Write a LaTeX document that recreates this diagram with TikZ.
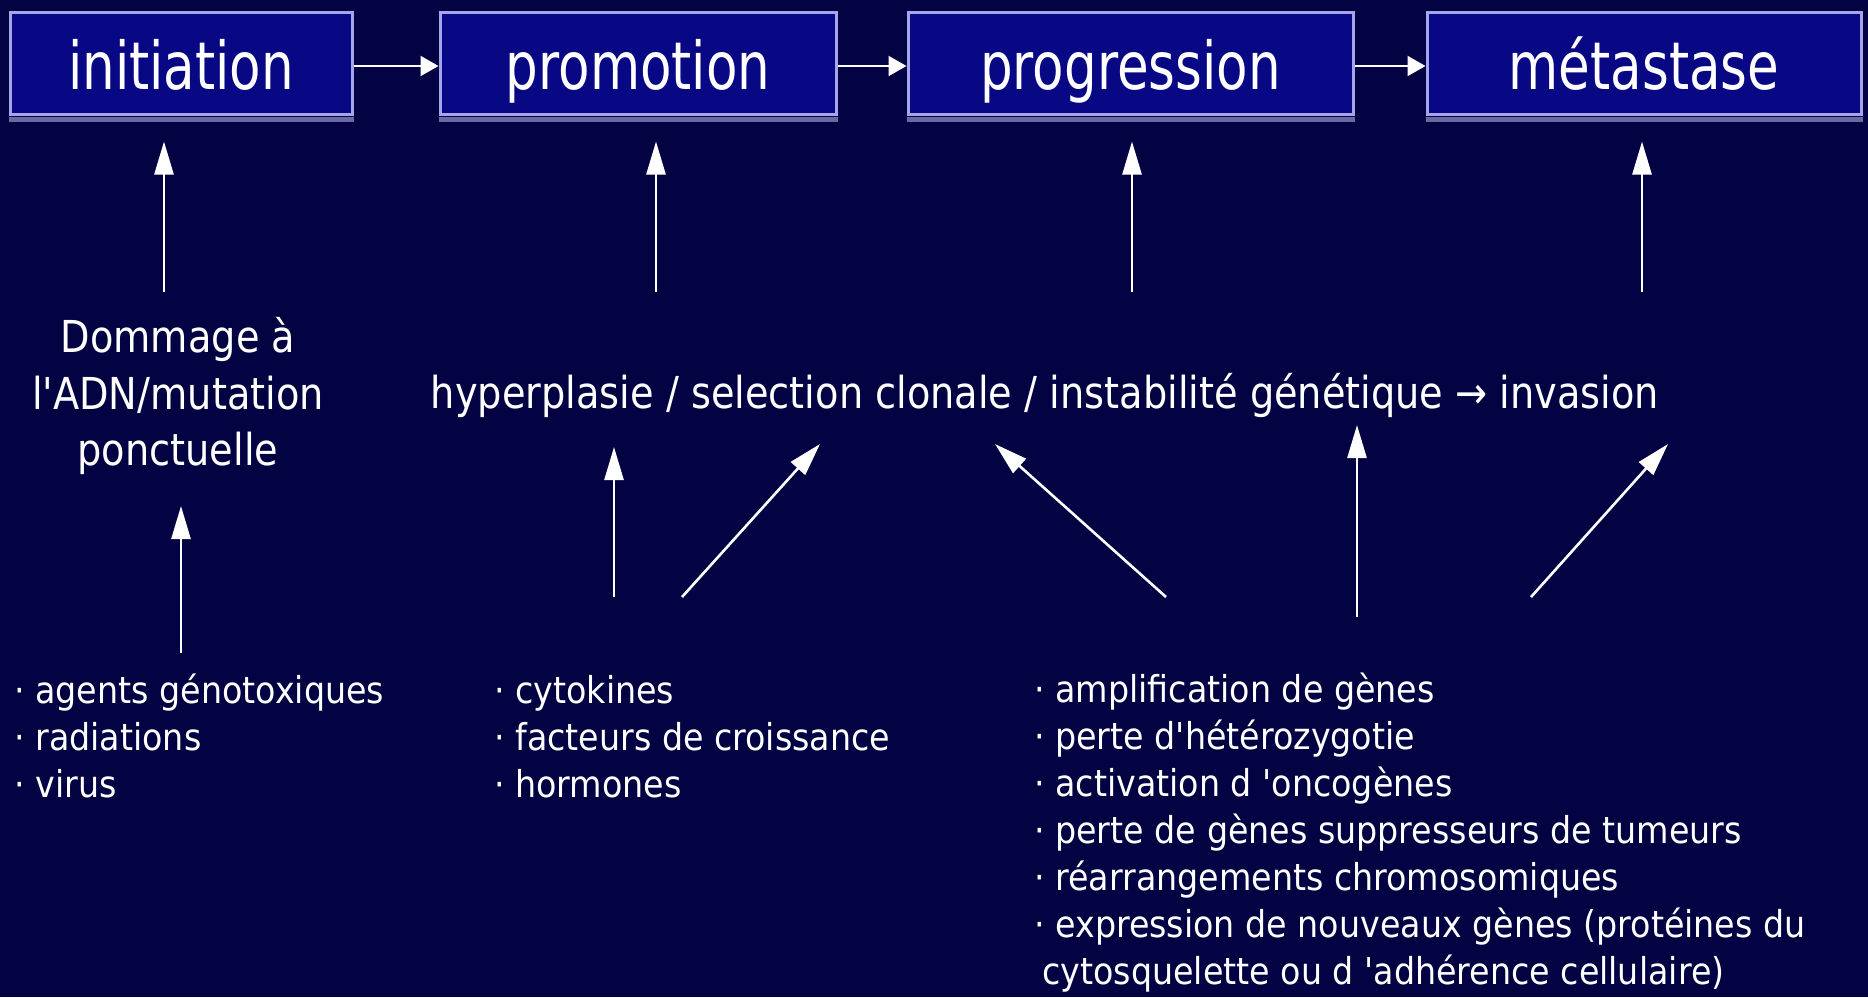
\documentclass[tikz,border=0pt]{standalone}
\usepackage{fontspec}
\setmainfont{DejaVu Sans}
\newfontfamily\titlefont[FakeStretch=0.78]{DejaVu Sans}
\newfontfamily\bodyfont[FakeStretch=0.9]{DejaVu Sans}
\newfontfamily\midfont[FakeStretch=0.87]{DejaVu Sans}
\usetikzlibrary{arrows.meta}
\definecolor{bgc}{RGB}{3,3,68}
\definecolor{boxc}{RGB}{8,8,132}
\definecolor{edgec}{RGB}{165,165,235}
\definecolor{shadc}{RGB}{105,105,165}
\begin{document}
\begin{tikzpicture}[x=1pt,y=-1pt,
  stage/.style={draw=edgec, line width=3pt, fill=boxc, text=white, inner sep=0pt,
    font=\titlefont\fontsize{66}{70}\selectfont, text height=52pt, text depth=0pt,
    minimum height=102pt},
  body/.style={text=white, inner sep=0pt, font=\bodyfont\fontsize{37}{46}\selectfont, anchor=base west},
  midtext/.style={text=white, inner sep=0pt, font=\midfont\fontsize{44}{56.5}\selectfont},
  uparrow/.style={draw=white, line width=2.6pt, -{Triangle[length=33pt,width=19pt]}},
  hzarrow/.style={draw=white, line width=2pt, -{Triangle[length=18pt,width=20pt]}},
]
\useasboundingbox (0,0) rectangle (1868,997);
\fill[bgc] (0,0) rectangle (1868,997);

% stage boxes
\node[stage, minimum width=342pt] (b1) at (181,63) {initiation};
\node[stage, minimum width=396pt] (b2) at (638,63) {promotion};
\node[stage, minimum width=445pt] (b3) at (1130.5,63) {progression};
\node[stage, minimum width=434pt] (b4) at (1644,63) {métastase};
\foreach \b in {b1,b2,b3,b4}
  \draw[shadc, line width=5pt] ([yshift=-4pt]\b.south west) -- ([yshift=-4pt]\b.south east);

\draw[hzarrow] ([yshift=-3pt]b1.east) -- ([yshift=-3pt]b2.west);
\draw[hzarrow] ([yshift=-3pt]b2.east) -- ([yshift=-3pt]b3.west);
\draw[hzarrow] ([yshift=-3pt]b3.east) -- ([yshift=-3pt]b4.west);

% arrows up to the boxes
\coordinate (u1) at (164,292);
\coordinate (u2) at (656,292);
\coordinate (u3) at (1132,292);
\coordinate (u4) at (1642,292);
\draw[uparrow, shorten >=26pt] (u1) -- (u1 |- b1.south);
\draw[uparrow, shorten >=26pt] (u2) -- (u2 |- b2.south);
\draw[uparrow, shorten >=26pt] (u3) -- (u3 |- b3.south);
\draw[uparrow, shorten >=26pt] (u4) -- (u4 |- b4.south);

% middle texts
\node[midtext, align=center] (dom) at (178,396) {Dommage à\\l'ADN/mutation\\ponctuelle};
\node[midtext, anchor=base] (midl) at (1045,408) {hyperplasie / selection clonale / instabilité génétique → invasion};

% arrows from the lists
\coordinate (d0) at (181,653); \coordinate (d1) at (181,506);
\draw[uparrow] (d0) -- (d1);
\coordinate (a0) at (614,597);  \coordinate (a1) at (614,447);
\coordinate (c0) at (682,597);  \coordinate (c1) at (820,444);
\coordinate (e0) at (1166,597); \coordinate (e1) at (995,444);
\coordinate (f0) at (1357,617); \coordinate (f1) at (1357,425);
\coordinate (g0) at (1531,597); \coordinate (g1) at (1668,444);
\draw[uparrow] (a0) -- (a1);
\draw[uparrow] (c0) -- (c1);
\draw[uparrow] (e0) -- (e1);
\draw[uparrow] (f0) -- (f1);
\draw[uparrow] (g0) -- (g1);

% lists
\foreach \t [count=\i] in {agents génotoxiques, radiations, virus}
  \node[body] (la\i) at (14,{703+47*(\i-1)}) {· \t};
\foreach \t [count=\i] in {cytokines, facteurs de croissance, hormones}
  \node[body] (lb\i) at (494,{703+47*(\i-1)}) {· \t};
\foreach \t [count=\i] in {amplification de gènes, perte d'hétérozygotie, activation d 'oncogènes, perte de gènes suppresseurs de tumeurs, réarrangements chromosomiques, expression de nouveaux gènes (protéines du}
  \node[body] (lc\i) at (1034,{702+47*(\i-1)}) {· \t};
\node[body] (lc7) at (1042,984) {cytosquelette ou d 'adhérence cellulaire)};
\end{tikzpicture}
\end{document}
